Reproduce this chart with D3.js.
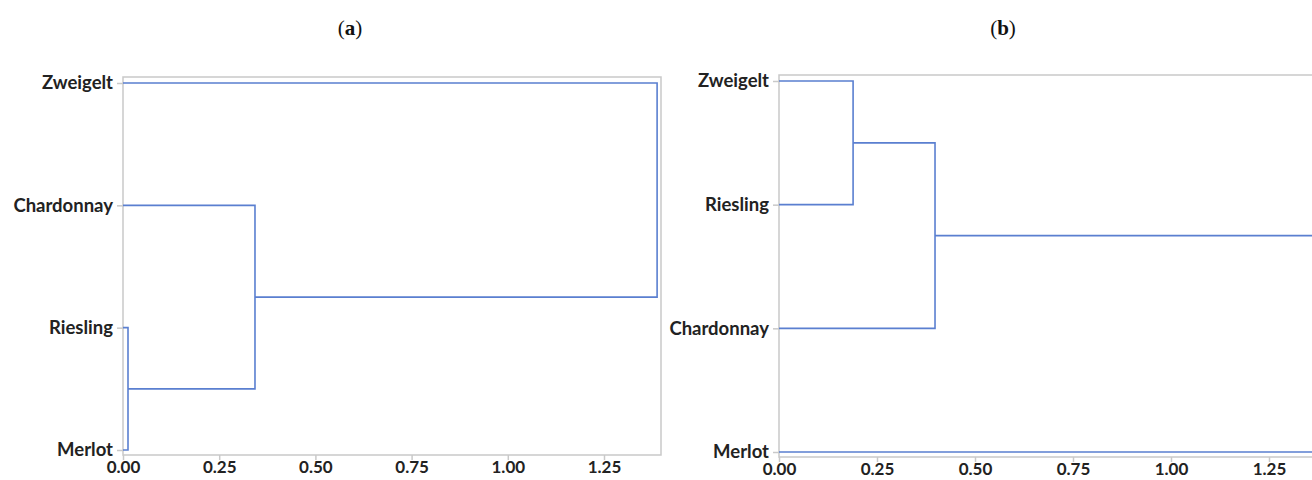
<!DOCTYPE html>
<html>
<head>
<meta charset="utf-8">
<script src="https://cdn.jsdelivr.net/npm/d3@7"></script>
<style>
  body { margin: 0; background: #fff; }
  svg { display: block; }
  .lbl { font-family: Lato, 'Open Sans', sans-serif; font-weight: 700; fill: #222; }
  .panel-title { font-family: 'Liberation Serif', serif; font-size: 21px; fill: #111; }
</style>
</head>
<body>
<div id="chart"></div>
<script>
// leaves top to bottom, merges as [childA, childB, height] (ids: leaves 0..3, then merges 4..)
const leavesA = ['Zweigelt', 'Chardonnay', 'Riesling', 'Merlot'];
const mergesA = [[2, 3, 0.013], [1, 4, 0.343], [0, 5, 1.388]];

const leavesB = ['Zweigelt', 'Riesling', 'Chardonnay', 'Merlot'];
const mergesB = [[0, 1, 0.189], [4, 2, 0.398], [5, 3, 1.37]];

const xTicks = [0, 0.25, 0.5, 0.75, 1.0, 1.25];
const titles = ['a', 'b'];

const LINE = '#5a7fd0';
const FRAME = '#c9c9c9';

const svg = d3.select('#chart').append('svg')
  .attr('width', 1312)
  .attr('height', 480);

function drawPanel(cfg) {
  const g = svg.append('g');

  const x = d3.scaleLinear()
    .domain([0, 1.25])
    .range(cfg.xr);

  const y = d3.scalePoint()
    .domain(cfg.leaves)
    .range([cfg.top + 6, cfg.bottom - 5]);

  // frame
  g.append('rect')
    .attr('x', cfg.xr[0])
    .attr('y', cfg.top)
    .attr('width', cfg.right - cfg.xr[0])
    .attr('height', cfg.bottom - cfg.top)
    .attr('fill', 'none')
    .attr('stroke', FRAME)
    .attr('stroke-width', 1.5);

  // y axis
  const yAxis = g.append('g')
    .attr('transform', 'translate(' + cfg.xr[0] + ',0)')
    .call(d3.axisLeft(y).tickSize(6).tickPadding(4));
  yAxis.select('.domain').remove();
  yAxis.selectAll('line').attr('stroke', FRAME).attr('stroke-width', 1.5);
  yAxis.selectAll('text')
    .attr('class', 'lbl')
    .style('font-size', '18.5px')
    .attr('font-family', null)
    .attr('fill', null);

  // x axis
  const xAxis = g.append('g')
    .attr('transform', 'translate(0,' + cfg.bottom + ')')
    .call(d3.axisBottom(x).tickValues(xTicks).tickFormat(d3.format('.2f')).tickSize(5).tickPadding(3));
  xAxis.select('.domain').remove();
  xAxis.selectAll('line').attr('stroke', FRAME).attr('stroke-width', 1.5);
  xAxis.selectAll('text')
    .attr('class', 'lbl')
    .style('font-size', '17px')
    .attr('font-family', null)
    .attr('fill', null)
    .attr('dy', '0.6em');

  // dendrogram links
  const nodes = cfg.leaves.map(l => ({h: 0, y: y(l)}));
  cfg.merges.forEach(m => {
    const a = nodes[m[0]];
    const b = nodes[m[1]];
    g.append('path')
      .attr('d', 'M' + x(a.h) + ',' + a.y + 'H' + x(m[2]) + 'V' + b.y + 'H' + x(b.h))
      .attr('fill', 'none')
      .attr('stroke', LINE)
      .attr('stroke-width', 1.6);
    nodes.push({h: m[2], y: (a.y + b.y) / 2});
  });

  // title
  const t = svg.append('text')
    .attr('class', 'panel-title')
    .attr('x', cfg.titleX)
    .attr('y', 35)
    .attr('text-anchor', 'middle');
  t.append('tspan').text('(');
  t.append('tspan').attr('font-weight', 700).text(cfg.title);
  t.append('tspan').text(')');
}

drawPanel({leaves: leavesA, merges: mergesA, xr: [123, 604], right: 661,
  top: 77, bottom: 455, title: titles[0], titleX: 350});
drawPanel({leaves: leavesB, merges: mergesB, xr: [779, 1269], right: 1318,
  top: 75, bottom: 457, title: titles[1], titleX: 1003});
</script>
</body>
</html>
